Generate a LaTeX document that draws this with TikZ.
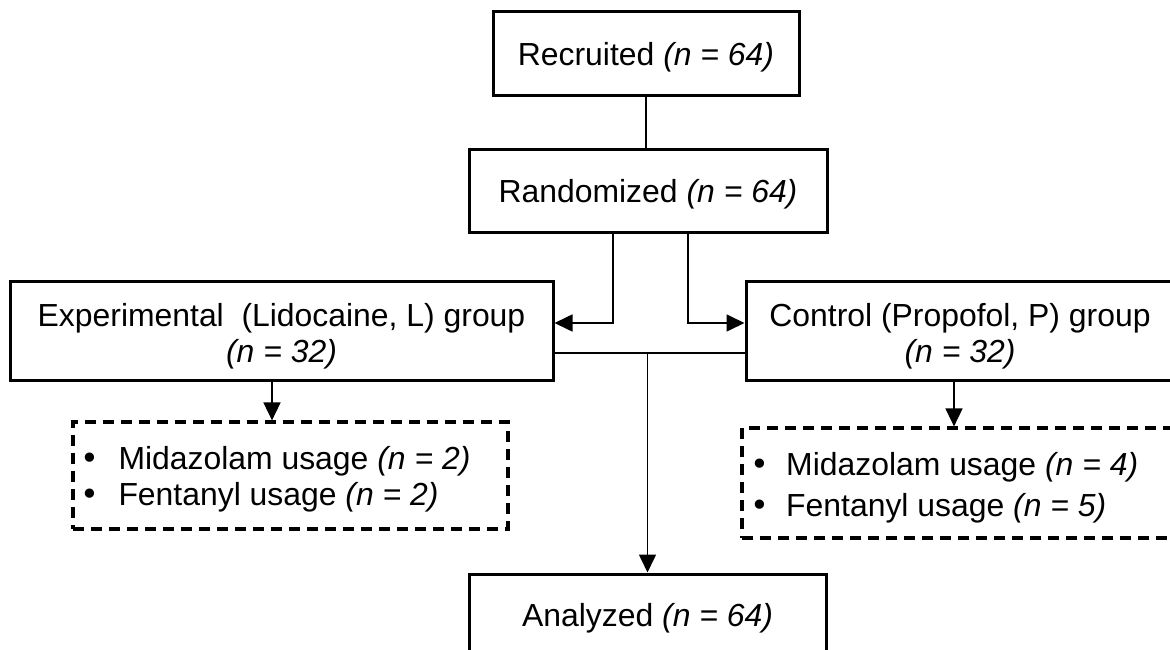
\documentclass[tikz,border=0pt]{standalone}
\usepackage{fontspec}
\setmainfont{Liberation Sans}
\newfontfamily\dvfont{DejaVu Sans}
\usetikzlibrary{arrows.meta}
\newcommand{\bigbul}{{\dvfont •}}
\begin{document}
\begin{tikzpicture}[x=1pt,y=-1pt,
  every node/.style={font=\fontsize{31.9pt}{36pt}\selectfont},
  box/.style={draw=black, line width=3pt, rectangle, inner sep=0pt, align=center},
  one/.style={text height=30pt, text depth=6.2pt},
  dbox/.style={draw=black, line width=3.2pt, dash pattern=on 11pt off 7pt, rectangle, inner sep=0pt},
  item/.style={anchor=west, inner sep=0pt, align=left},
  line/.style={draw=black, line width=1.6pt},
  conn/.style={line, -{Triangle[length=18pt,width=17pt]}}
]
\path[use as bounding box] (0,0) rectangle (1170,650);
\clip (0,0) rectangle (1170,650);

\node[box, one, minimum width=306pt, minimum height=84pt] (rec) at (646,54) {Recruited \textit{(n = 64)}};
\node[box, one, minimum width=358pt, minimum height=82pt] (rand) at (648,191) {Randomized \textit{(n = 64)}};
\node[box, minimum width=543pt, minimum height=99pt] (exp) at (281.5,330.5)
  {\rule{0pt}{34pt}Experimental\ \ (Lidocaine, L) group\\\textit{(n = 32)}};
\node[box, minimum width=428pt, minimum height=99pt] (ctrl) at (960,330.5)
  {\rule{0pt}{34pt}Control (Propofol, P) group\\\textit{(n = 32)}};
\node[dbox, minimum width=435pt, minimum height=107pt] (ldash) at (290.5,475.5) {};
\node[dbox, minimum width=440pt, minimum height=110pt] (rdash) at (962,483) {};
\node[box, one, minimum width=357pt, minimum height=82pt] (ana) at (647.5,615) {Analyzed \textit{(n = 64)}};

\node[item, font=\fontsize{31.9pt}{36pt}\selectfont] (litems) at (80,479)
  {\makebox[38.3pt][l]{\bigbul}Midazolam usage \textit{(n = 2)}\\
   \makebox[38.3pt][l]{\bigbul}Fentanyl usage \textit{(n = 2)}};
\node[item, font=\fontsize{31.9pt}{41pt}\selectfont] (ritems) at (750,488)
  {\makebox[36pt][l]{\bigbul}Midazolam usage \textit{(n = 4)}\\
   \makebox[36pt][l]{\bigbul}Fentanyl usage \textit{(n = 5)}};

\draw[line] (rec.south) -- (rec.south |- rand.north);
\draw[conn] ([xshift=-35pt]rand.south) |- ([yshift=7.5pt]exp.east);
\draw[conn] ([xshift=40pt]rand.south) |- ([yshift=7.5pt]ctrl.west);
\coordinate (jl) at ([yshift=-22.5pt]exp.east);
\coordinate (jr) at ([yshift=-22.5pt]ctrl.west);
\draw[line] (jl) -- (jr);
\draw[conn] (jl -| ana.north) -- (ana.north);
\coordinate (ea) at ([xshift=-9.5pt]exp.south);
\draw[conn] (ea) -- (ea |- ldash.north);
\coordinate (ca) at ([xshift=-6pt]ctrl.south);
\draw[conn] (ca) -- (ca |- rdash.north);
\end{tikzpicture}
\end{document}
